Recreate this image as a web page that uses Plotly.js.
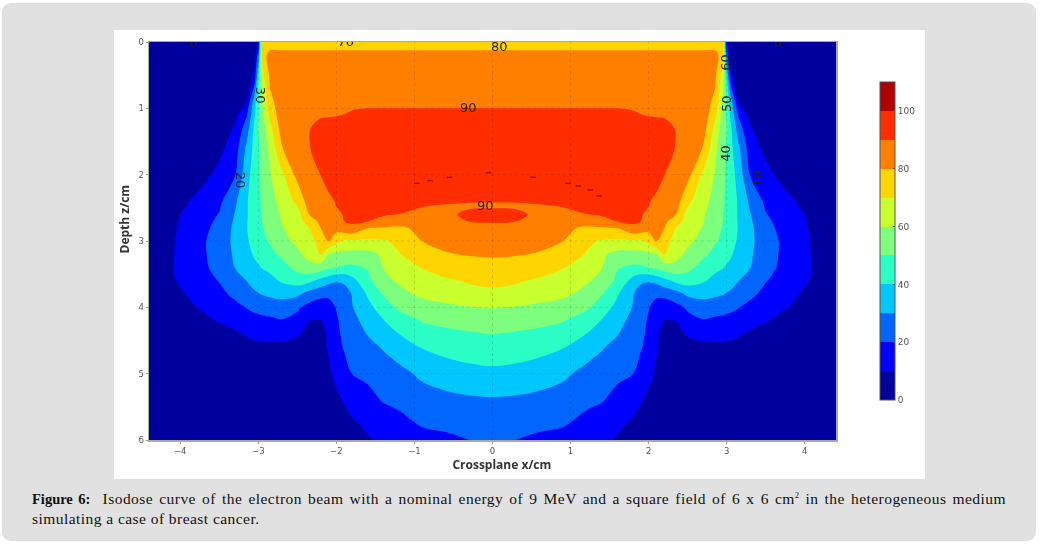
<!DOCTYPE html>
<html>
<head>
<meta charset="utf-8">
<script src="https://cdn.plot.ly/plotly-3.0.1.min.js"></script>
<style>
html,body{margin:0;padding:0;background:#fff;width:1040px;height:548px;overflow:hidden}
#panel{position:absolute;left:2px;top:3px;width:1034px;height:538px;background:#e1e1e1;border-radius:9px}
#sheet{position:absolute;left:114px;top:30px;width:811px;height:449px;background:#fff}
#chart{position:absolute;left:0;top:0;width:1040px;height:548px;filter:blur(0.4px)}
#caption{position:absolute;left:32px;top:489px;width:974px;font:15.5px/19px "Liberation Serif",serif;letter-spacing:.45px;color:#111}
#line1{text-align:justify;text-align-last:justify}
#caption b{font-size:14.5px;letter-spacing:0}
#caption sup{font-size:8px;line-height:0}
</style>
</head>
<body>
<div id="panel"></div>
<div id="sheet"></div>
<div id="chart"></div>
<div id="caption"><div id="line1"><b>Figure 6:</b>&nbsp; Isodose curve of the electron beam with a nominal energy of 9 MeV and a square field of 6 x 6 cm<sup>2</sup> in the heterogeneous medium</div><div>simulating a case of breast cancer.</div></div>
<script>
// Distance from the beam axis (cm): the field is symmetric, each row is read on the left half.
var offAxis = [0,.3,.6,.9,1.2,1.4,1.6,1.8,1.9,2.0,2.1,2.2,2.35,2.5,2.7,2.85,2.95,3.0,3.05,3.15,3.3,3.5,3.75,4.0,4.2,4.4];
var depths  = [0,.1,.2,.5,.9,1.1,1.3,1.6,2.0,2.4,2.46,2.6,2.7,2.8,3.0,3.2,3.4,3.6,3.8,4.0,4.2,4.4,4.6,5.0,5.4,5.8,6.0];

var dose_000 = [75,75,75,75,75,75,75,75,75,75,75,75,75,75,75,75,75,10,2,.5,.2,0,0,0,0,0];
var dose_010 = [79,79,79,79,79,79,79,79,79,79,79,79,79,79,79,79,74,15,3,.5,.2,0,0,0,0,0];
var dose_020 = [83,83,83,83,83,83,83,83,83,83,83,83,83,83,83,83,76,25,5,1,.3,0,0,0,0,0];
var dose_050 = [86,86,86,86,86,86,86,86,86,86,86,86,86,86,84,82,66,40,12,3,1,.3,0,0,0,0];
var dose_090 = [88,88,88,88,88,88,88,88,88,88,88,88,87,86,84,78,60,48,35,10,4,1,.3,0,0,0];
var dose_110 = [92,92,92,92,92,92,92,91,90.1,89.7,89.4,89,88.5,87.5,85.5,73,57,49,38,19,7,2,.5,.2,0,0];
var dose_130 = [93,93,93,93,93,93,93,93,93,93,93,93,89.5,87,84,67,55,50,42,25,11,4,1,.4,.1,0];
var dose_160 = [94,94,94,94,94,94,94,94,94,94,94,94,89.5,85,79.5,62,54,48.5,43,32,15,7.5,2,.5,.2,0];
var dose_200 = [95,95,95,95,95,95,95,95,95,95,93,90.1,87,83,68,59.5,52,48.5,45,36,19.5,13,6,1.5,.5,.1];
var dose_240 = [90.5,90.5,91,91.5,92,92,92,92,91,90.5,88.5,87,85,72,64,56,51,48.5,45,39,28,18,13,7.5,3,1];
var dose_246 = [89,89.2,89.7,90.4,91.2,91.5,91.6,91.6,90.8,90.2,88,86.3,83.5,70.5,63,55.5,50.8,48.3,45.3,39,28.8,18.8,13.5,8,3.5,1.2];
var dose_260 = [92,91,89,88.5,89.9,91,91,90.7,90.3,89,86,84,80.1,66,61,54,50.5,48,45.5,39,30.5,20.5,15,10.1,5,2];
var dose_270 = [91,90.3,86.5,84.5,84.5,87,90.5,90.8,90.1,86.5,84,82,76,65,60.5,53.5,50.1,47.8,45.3,39.2,31.3,21.8,15.8,10.5,5.5,2.2];
var dose_280 = [87,86,84,81.5,79,79.5,80.5,89,87,84,82,80.2,70.1,64,59.5,53,49.5,47.5,45,39.5,32,23,16.5,11,6,2.5];
var dose_300 = [84,83.5,82,80.1,72,69,68,68.5,68.5,73,80.5,74,66,62,57,51,48,46,44,38.5,32,25,17.5,11.5,7,3];
var dose_320 = [81,80.6,79.5,75,69.5,61.5,57,56.5,57,58,60.1,70.5,63,58,52,47.5,45,43,41,37,31,25.5,17,11.5,7.5,3];
var dose_340 = [77,76.2,74.5,70.5,64.5,60.2,50.8,48,48.5,49.8,52,55,57,53,46,42,40.5,39,38,34,30.2,23.5,17,12,7.5,3];
var dose_360 = [72,71,68.5,65,61.5,57,47.5,36.5,32,31,33,37,42.5,44.5,41,37.5,35.5,34,33,30.1,26,20.5,15,11,7,3];
var dose_380 = [68,67,65,62.5,56.5,50.5,41,30.5,25,22,21.5,22,26,32,34,32,30.5,29.5,28.7,26.5,22.5,17,12.5,9,5.5,2];
var dose_400 = [60.5,59.5,57.5,55,52,45,37,29.5,24.5,20.5,17,16,17,21.5,24,23.5,23,22.5,22,20.5,17,14,10.7,7,4,1.5];
var dose_420 = [55,54.5,53,50.7,44.5,39.5,33.5,27,23,19,13,9.5,10.1,17,19.5,18.5,18,17.5,17,16,13.5,10.8,7,4,2,.7];
var dose_440 = [50.2,49,47.5,45,40,35.5,30.5,24.5,22,18,11.5,7,8,10.8,13,13,12.8,12.5,12,11,8.5,6,3.5,2,1,.5];
var dose_460 = [46.5,45.5,43.5,40.5,35,31,26.5,22.5,20.8,17,10.8,7,6,7,8,8,8,8,7.8,7,5.5,3.5,2,1,.5,.2];
var dose_500 = [37.5,36.5,34.5,32,27,24,22,20.1,16,12.5,8.5,5,3.5,3,2.5,2,2,2,1.8,1.5,1.2,1,.5,.2,.1,0];
var dose_540 = [29,28.5,27.5,25.5,22.5,20.7,17,12.5,10.7,8,5,3,2,1.5,1,1,1,1,.8,.7,.5,.4,.2,.1,0,0];
var dose_580 = [22,21.5,21,20.1,16,13.5,11,8.5,6.5,5,3.5,2,1.5,1,.8,.7,.6,.6,.5,.4,.3,.2,.1,0,0,0];
var dose_600 = [20.4,20,18.5,17,14,11.5,9.3,6,4.5,3.5,2.5,1.5,1,.8,.6,.5,.5,.4,.4,.3,.2,.1,0,0,0,0];

var doseRows = [dose_000,dose_010,dose_020,dose_050,dose_090,dose_110,dose_130,dose_160,dose_200,dose_240,dose_246,dose_260,dose_270,dose_280,dose_300,dose_320,dose_340,dose_360,dose_380,dose_400,dose_420,dose_440,dose_460,dose_500,dose_540,dose_580,dose_600];

// Small spots above 100 %
var spotX = [-.97,-.8,-.55,-.05,.52,.97,1.1,1.25,1.37];
var spotZ = [2.13,2.09,2.04,1.97,2.04,2.13,2.17,2.23,2.32];

// Contour labels
var lineLabels = ['30','20','60','50','40','10','90','90','80'];
var lineLabelX = [-2.98,-3.23,2.99,2.99,2.99,3.40,-.31,-.09,.09];
var lineLabelZ = [.81,2.08,.3,.92,1.67,2.05,.98,2.47,.07];
var lineLabelAngle = [90,90,-90,-90,-90,-90,0,0,0];
var edgeLabels = ['0','70','0'];
var edgeLabelX = [-3.83,-1.88,3.66];
var edgeLabelZ = [.03,.01,.03];

var levelColors = ['#00009f','#0000ff','#0066ff','#00c8ff','#2cffc6','#7dff7d','#c8ff2c','#ffd500','#ff8000','#ff2d00','#b00000'];
var xTicks = [-4,-3,-2,-1,0,1,2,3,4];
var zTicks = [0,1,2,3,4,5,6];
var barTicks = [0,20,40,60,80,100];

var xFull = offAxis.slice(1).reverse().map(function(v){return -v;}).concat(offAxis);
var zFull = doseRows.map(function(r){return r.slice(1).reverse().concat(r);});
var scale = [];
levelColors.forEach(function(c,i){
  scale.push([i/levelColors.length,c]);
  scale.push([(i+1)/levelColors.length,c]);
});

var traces = [{
  type:'contour', x:xFull, y:depths, z:zFull,
  zmin:0, zmax:110, colorscale:scale, autocontour:false,
  contours:{start:0,end:110,size:10,coloring:'fill',showlines:false},
  line:{width:0,smoothing:1},
  hoverinfo:'skip',
  colorbar:{
    x:1.0640, xanchor:'left', xpad:0,
    y:0.8995, yanchor:'top', ypad:0,
    thickness:15, thicknessmode:'pixels', len:318, lenmode:'pixels',
    outlinewidth:1, outlinecolor:'#555',
    tickmode:'array', tickvals:barTicks, ticktext:barTicks.map(String),
    ticks:'inside', ticklen:2, tickcolor:'#444',
    tickfont:{family:'"DejaVu Sans",sans-serif',size:9,color:'#555'}
  }
},{
  type:'scatter', mode:'markers', x:spotX, y:spotZ,
  marker:{color:'#a81000',size:4,symbol:'line-ew',line:{color:'#a81000',width:1.5}}, hoverinfo:'skip', showlegend:false
},{
  type:'scatter', mode:'text', x:edgeLabelX, y:edgeLabelZ, text:edgeLabels,
  textposition:'middle center', cliponaxis:true,
  textfont:{family:'"DejaVu Sans",sans-serif',size:13,color:'#222'},
  hoverinfo:'skip', showlegend:false
}];

var gridShapes = [];
xTicks.forEach(function(v){
  gridShapes.push({type:'line',xref:'x',yref:'paper',x0:v,x1:v,y0:0,y1:1,layer:'above',line:{color:'rgba(0,0,0,0.13)',width:1,dash:'dot'}});
});
zTicks.slice(1,6).forEach(function(v){
  gridShapes.push({type:'line',xref:'paper',yref:'y',x0:0,x1:1,y0:v,y1:v,layer:'above',line:{color:'rgba(0,0,0,0.13)',width:1,dash:'dot'}});
});

var annos = lineLabels.map(function(t,i){
  return {x:lineLabelX[i],y:lineLabelZ[i],xref:'x',yref:'y',text:t,showarrow:false,textangle:lineLabelAngle[i],
    font:{family:'"DejaVu Sans",sans-serif',size:13,color:'#222'}};
});

var pad = function(n){ return new Array(n+1).join('\u00a0'); };
var layout = {
  width:1040,height:548,
  margin:{l:149,r:204,t:42,b:108,pad:0},
  paper_bgcolor:'rgba(0,0,0,0)',plot_bgcolor:'rgba(0,0,0,0)',
  showlegend:false,
  xaxis:{range:[-4.4,4.4],tickmode:'array',tickvals:xTicks,showgrid:false,zeroline:false,
    showline:true,mirror:true,linecolor:'#a8a8a8',linewidth:1.5,ticks:'outside',ticklen:2,tickcolor:'#999',
    tickfont:{family:'"DejaVu Sans",sans-serif',size:8.5,color:'#555'},
    title:{text:'<b>'+pad(6)+'Crossplane x/cm</b>',standoff:4,font:{family:'"Open Sans",sans-serif',size:12,color:'#333'}}},
  yaxis:{range:[6,0],tickmode:'array',tickvals:zTicks,showgrid:false,zeroline:false,
    showline:true,mirror:true,linecolor:'#a8a8a8',linewidth:1.5,ticks:'outside',ticklen:2,tickcolor:'#999',
    tickfont:{family:'"DejaVu Sans",sans-serif',size:8.5,color:'#555'},
    title:{text:'<b>'+pad(14)+'Depth z/cm</b>',standoff:6,font:{family:'"Open Sans",sans-serif',size:12,color:'#333'}}},
  shapes:gridShapes,
  annotations:annos
};
Plotly.newPlot('chart',traces,layout,{displayModeBar:false,staticPlot:true});
</script>
</body>
</html>
